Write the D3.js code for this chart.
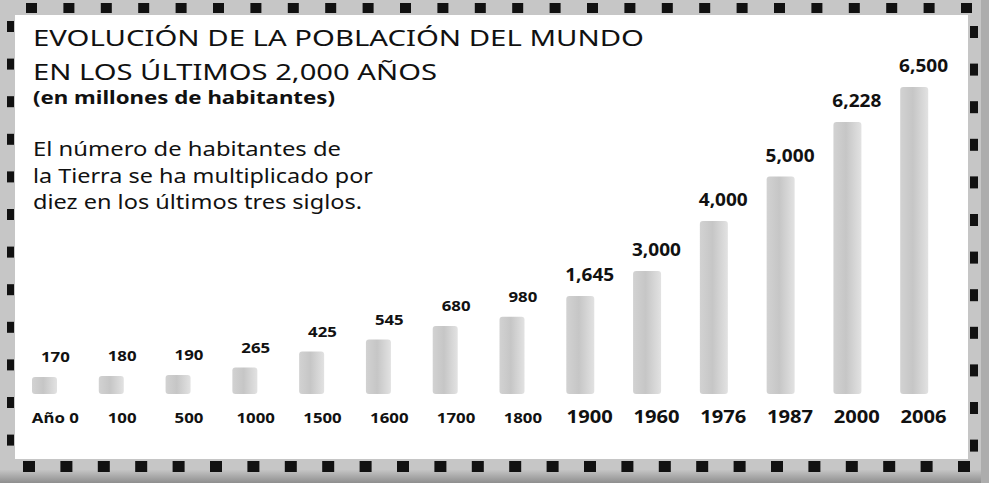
<!DOCTYPE html>
<html>
<head>
<meta charset="utf-8">
<script src="https://cdn.jsdelivr.net/npm/d3@7"></script>
<style>
  body { margin: 0; background: #fff; }
  svg { display: block; }
</style>
</head>
<body>
<div id="chart"></div>
<script>
const years = ["Año 0", "100", "500", "1000", "1500", "1600", "1700", "1800",
               "1900", "1960", "1976", "1987", "2000", "2006"];
const population = [170, 180, 190, 265, 425, 545, 680, 980,
                    1645, 3000, 4000, 5000, 6228, 6500];
const titleLines = ["EVOLUCIÓN DE LA POBLACIÓN DEL MUNDO", "EN LOS ÚLTIMOS 2,000 AÑOS"];
const subtitle = "(en millones de habitantes)";
const note = ["El número de habitantes de",
              "la Tierra se ha multiplicado por",
              "diez en los últimos tres siglos."];

const width = 989, height = 483;
const panel = {x: 15, y: 15, x2: 968, y2: 459};
const margin = {left: 22, right: 32, base: 394};
const font = "'Noto Sans', 'Open Sans', sans-serif";

const svg = d3.select("#chart").append("svg")
    .attr("width", width)
    .attr("height", height);

const defs = svg.append("defs");
const grad = defs.append("linearGradient").attr("id", "bar");
grad.append("stop").attr("offset", "0%").attr("stop-color", "#d2d2d2");
grad.append("stop").attr("offset", "45%").attr("stop-color", "#c6c6c6");
grad.append("stop").attr("offset", "100%").attr("stop-color", "#e2e2e2");

const shade = defs.append("linearGradient").attr("id", "shade")
    .attr("x1", 0).attr("x2", 0).attr("y1", 0).attr("y2", 1);
shade.append("stop").attr("offset", "0%").attr("stop-color", "#c4c4c4");
shade.append("stop").attr("offset", "100%").attr("stop-color", "#8e8e8e");

// frame
svg.append("rect").attr("width", width).attr("height", height).attr("fill", "#c6c6c6");
svg.append("rect").attr("y", 470).attr("width", width).attr("height", 13).attr("fill", "url(#shade)");
svg.append("rect").attr("x", 981).attr("width", 8).attr("height", height).attr("fill", "#adadad");
svg.append("rect")
    .attr("x", panel.x).attr("y", panel.y)
    .attr("width", panel.x2 - panel.x).attr("height", panel.y2 - panel.y)
    .attr("fill", "#fff");

const sq = svg.append("g").attr("fill", "#111");
sq.selectAll(".t").data(d3.range(26)).join("rect")
    .attr("x", i => 26 + i * 37.4).attr("y", 3).attr("width", 11).attr("height", 10);
sq.selectAll(".b").data(d3.range(26)).join("rect")
    .attr("x", i => 23 + i * 37.4).attr("y", 461).attr("width", 12).attr("height", 11);
sq.selectAll(".l").data(d3.range(12)).join("rect")
    .attr("x", 7).attr("y", i => 21 + i * 37.6).attr("width", 7).attr("height", 11);
sq.selectAll(".r").data(d3.range(12)).join("rect")
    .attr("x", 970).attr("y", i => 26 + i * 37.6).attr("width", 8).attr("height", 12);

// scales
const x = d3.scaleBand()
    .domain(years)
    .range([margin.left, width - margin.right]);

// the original drawing uses an editorial, non-proportional height scale
const h = d3.scaleLinear()
    .domain([0, 680, 1645, 3000, 4000, 6228, 6500])
    .range([0, 68, 98, 123, 173, 272, 307]);

const data = years.map((y, i) => ({year: y, value: population[i], big: i >= 8}));

svg.append("g").selectAll("rect")
    .data(data)
    .join("rect")
      .attr("x", d => x(d.year) + 10)
      .attr("y", d => margin.base - h(d.value))
      .attr("width", d => d.big ? 28 : 25)
      .attr("height", d => h(d.value))
      .attr("rx", 3)
      .attr("fill", "url(#bar)");

svg.append("g").selectAll("text")
    .data(data)
    .join("text")
      .attr("x", d => x(d.year) + x.bandwidth() / 2)
      .attr("y", d => margin.base - h(d.value) - 15)
      .attr("text-anchor", "middle")
      .style("font-family", font)
      .style("font-weight", "bold")
      .style("font-size", d => d.big ? "17px" : "15px")
      .attr("fill", "#111")
      .text(d => d3.format(",")(d.value));

svg.append("g").selectAll("text")
    .data(data)
    .join("text")
      .attr("x", d => x(d.year) + x.bandwidth() / 2)
      .attr("y", 423)
      .attr("text-anchor", "middle")
      .style("font-family", font)
      .style("font-weight", "bold")
      .style("font-size", d => d.big ? "18px" : "15px")
      .attr("fill", "#111")
      .text(d => d.year);

// stretch value and year labels a little, the source type is wide
svg.selectAll("g text").each(function() {
  const t = d3.select(this);
  t.attr("textLength", this.getComputedTextLength() * 1.12)
   .attr("lengthAdjust", "spacingAndGlyphs");
});

// headings
const head = svg.append("g").style("font-family", font).attr("fill", "#111");
head.selectAll(".title").data(titleLines).join("text")
    .attr("x", 33).attr("y", (d, i) => 46 + i * 34)
    .style("font-size", "22px")
    .attr("textLength", (d, i) => i === 0 ? 611 : 404)
    .attr("lengthAdjust", "spacingAndGlyphs")
    .text(d => d);

head.append("text")
    .attr("x", 33).attr("y", 104)
    .style("font-size", "17px").style("font-weight", "bold")
    .attr("textLength", 302).attr("lengthAdjust", "spacingAndGlyphs")
    .text(subtitle);

head.selectAll(".note").data(note).join("text")
    .attr("x", 33).attr("y", (d, i) => 156 + i * 26.5)
    .style("font-size", "19px")
    .attr("textLength", (d, i) => [308, 340, 329][i])
    .attr("lengthAdjust", "spacingAndGlyphs")
    .text(d => d);
</script>
</body>
</html>
